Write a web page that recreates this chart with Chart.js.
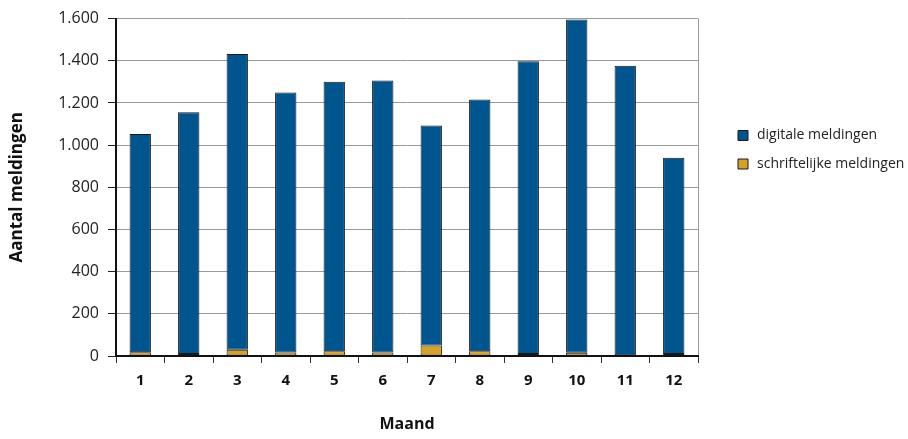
<!DOCTYPE html>
<html>
<head>
<meta charset="utf-8">
<script src="https://cdn.jsdelivr.net/npm/chart.js@4"></script>
<style>
  body { margin: 0; background: #fff; }
  #wrap { width: 908px; height: 439px; }
</style>
</head>
<body>
<div id="wrap"><canvas id="meldingenChart" width="908" height="439"></canvas></div>
<script>
// maanden
const maanden = ['1', '2', '3', '4', '5', '6', '7', '8', '9', '10', '11', '12'];
// meldingen per maand
const schriftelijk = [18, 10, 30, 17, 22, 17, 50, 23, 10, 15, 4, 9];
const digitaal = [1035, 1146, 1402, 1232, 1279, 1290, 1043, 1193, 1388, 1581, 1373, 931];
// as
const yMin = 0;
const yMax = 1600;
const yStap = 200;

const blauw = '#01558F';
const geel = '#D4A12A';
const lettertype = "'Open Sans', sans-serif";

function punten(v) {
    return String(v).replace(/\B(?=(\d{3})+(?!\d))/g, '.');
}

// legenda op vaste plek zetten
const legendaPlek = {
    id: 'legendaPlek',
    beforeLayout(chart) {
        const l = chart.legend;
        if (l && !l._vast) {
            const fit = l.fit;
            l.fit = function () {
                fit.call(this);
                this.width = 210;
            };
            l._vast = true;
        }
    },
    afterLayout(chart) {
        const l = chart.legend;
        const pad = l.options.labels.padding;
        const w = l.width, h = l.height;
        l.left = 736 - pad;
        l.right = l.left + w;
        l.top = 128.5 - pad;
        l.bottom = l.top + h;
    }
};

document.addEventListener('DOMContentLoaded', function () {
    const ctx = document.getElementById('meldingenChart').getContext('2d');

    new Chart(ctx, {
        type: 'bar',
        data: {
            labels: maanden,
            datasets: [
                {
                    label: 'schriftelijke meldingen',
                    data: schriftelijk,
                    backgroundColor: geel,
                    borderColor: '#1a1a1a',
                    borderWidth: 1,
                    borderSkipped: false,
                },
                {
                    label: 'digitale meldingen',
                    data: digitaal,
                    backgroundColor: blauw,
                    borderColor: '#1a1a1a',
                    borderWidth: 1,
                    borderSkipped: false,
                },
            ],
        },
        options: {
            responsive: false,
            animation: false,
            datasets: {
                bar: { categoryPercentage: 1, barPercentage: 0.44 }
            },
            layout: { padding: { top: 14, left: 0, right: 0, bottom: 0 } },
            plugins: {
                legend: {
                    position: 'right',
                    align: 'start',
                    reverse: true,
                    labels: {
                        usePointStyle: true,
                        pointStyle: 'rect',
                        boxHeight: 10,
                        padding: 14.5,
                        color: '#222',
                        font: { family: lettertype, size: 14 },
                    },
                },
                tooltip: { enabled: false },
            },
            scales: {
                x: {
                    stacked: true,
                    afterFit: function (s) { s.height = 83; },
                    grid: {
                        offset: true,
                        color: c => c.type === 'scale' ? '#9a9a9a' : 'rgba(0,0,0,0)',
                        tickColor: '#333',
                        tickLength: 7,
                        lineWidth: 1,
                    },
                    border: { color: '#111', width: 2 },
                    ticks: {
                        color: '#111',
                        padding: 9,
                        font: { family: lettertype, size: 15, weight: 'bold' },
                    },
                    title: {
                        display: true,
                        text: 'Maand',
                        color: '#111',
                        padding: { top: 0, bottom: 5 },
                        font: { family: lettertype, size: 16, weight: 'bold' },
                    },
                },
                y: {
                    stacked: true,
                    min: yMin,
                    max: yMax,
                    afterFit: function (s) { s.width = 116; },
                    grid: {
                        color: '#9a9a9a',
                        tickColor: '#222',
                        tickLength: 8,
                        lineWidth: 1,
                    },
                    border: { color: '#111', width: 2 },
                    ticks: {
                        stepSize: yStap,
                        color: '#222',
                        padding: 9,
                        font: { family: lettertype, size: 16 },
                        callback: v => punten(v),
                    },
                    title: {
                        display: true,
                        text: 'Aantal meldingen',
                        color: '#111',
                        padding: { top: 7, bottom: 0 },
                        font: { family: lettertype, size: 17, weight: 'bold' },
                    },
                },
            },
        },
        plugins: [legendaPlek],
    });
});
</script>
</body>
</html>
